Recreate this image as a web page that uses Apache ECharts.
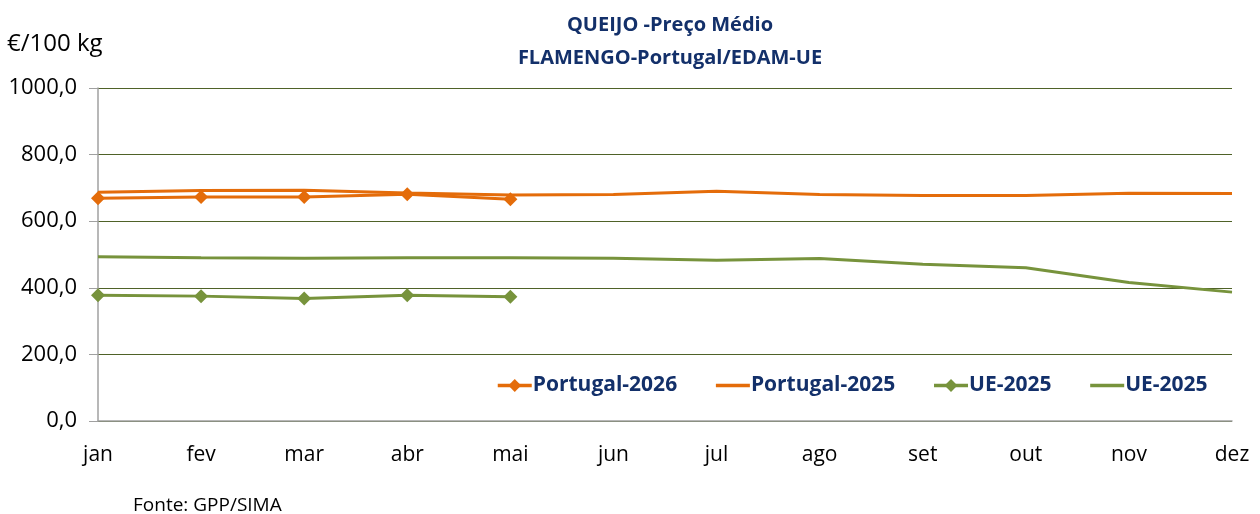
<!DOCTYPE html>
<html><head><meta charset="utf-8">
<script src="https://cdn.jsdelivr.net/npm/echarts@6/dist/echarts.min.js"></script>
<style>html,body{margin:0;padding:0;background:#fff}#c{width:1260px;height:514px}</style>
</head><body><div id="c"></div>
<script>
const months = ['jan','fev','mar','abr','mai','jun','jul','ago','set','out','nov','dez'];
const portugal2026 = [669, 673, 673, 681, 666];
const portugal2025 = [687, 692, 693, 685, 679, 680, 690, 680, 677, 677, 684, 683];
const ue2026 = [378, 375, 368, 378, 373];
const ue2025 = [493, 490, 489, 490, 490, 489, 483, 488, 471, 460, 416, 387];
const names = ['Portugal-2026', 'Portugal-2025', 'UE-2025', 'UE-2025\u200b'];
const orange = '#E46C0A', green = '#77933C', navy = '#13306A';
const font = 'Open Sans';
const chart = echarts.init(document.getElementById('c'));
chart.setOption({
  animation: false,
  textStyle: {fontFamily: font},
  title: [
    {text: 'QUEIJO -Preço Médio\nFLAMENGO-Portugal/EDAM-UE', left: 665, textAlign: 'center', top: 4,
     textStyle: {color: navy, fontSize: 20, fontWeight: 'bold', lineHeight: 33, fontFamily: font}},
    {text: '€/100 kg', left: 2, top: 27, textStyle: {color: '#000', fontSize: 24, fontWeight: 'normal', fontFamily: font}},
    {text: 'Fonte: GPP/SIMA', left: 128, top: 491, textStyle: {color: '#000', fontSize: 19, fontWeight: 'normal', fontFamily: font}}
  ],
  legend: {
    left: 491, top: 370, itemGap: 37, itemWidth: 34, itemHeight: 16,
    lineStyle: {width: 3.5},
    textStyle: {color: navy, fontSize: 21, fontWeight: 'bold', fontFamily: font, padding: [0,0,0,-4]},
    data: names
  },
  grid: {left: 98, right: 28, top: 88, bottom: 93, containLabel: false},
  xAxis: {
    type: 'category', data: months, boundaryGap: false,
    axisLine: {lineStyle: {color: '#A0A0A0', width: 1.5}},
    axisTick: {show: false},
    axisLabel: {color: '#000', fontSize: 21, margin: 24}
  },
  yAxis: {
    type: 'value', min: 0, max: 1000, interval: 200,
    axisLine: {show: true, lineStyle: {color: '#A0A0A0', width: 1.5}},
    axisTick: {show: true, inside: false, length: 9, lineStyle: {color: '#A0A0A0'}},
    axisLabel: {color: '#000', fontSize: 22, margin: 21, formatter: v => v.toFixed(1).replace('.', ',')},
    splitLine: {lineStyle: {color: '#4F6228', width: 1.2}}
  },
  series: [
    {name: names[0], type: 'line', data: portugal2026, symbol: 'diamond', symbolSize: 14,
     lineStyle: {color: orange, width: 3}, itemStyle: {color: orange}, z: 4},
    {name: names[1], type: 'line', data: portugal2025, symbol: 'circle', showSymbol: false,
     lineStyle: {color: orange, width: 3}, itemStyle: {color: orange, opacity: 0}, z: 3},
    {name: names[2], type: 'line', data: ue2026, symbol: 'diamond', symbolSize: 14,
     lineStyle: {color: green, width: 3}, itemStyle: {color: green}, z: 4},
    {name: names[3], type: 'line', data: ue2025, symbol: 'circle', showSymbol: false,
     lineStyle: {color: green, width: 3}, itemStyle: {color: green, opacity: 0}, z: 3}
  ]
});
</script></body></html>
